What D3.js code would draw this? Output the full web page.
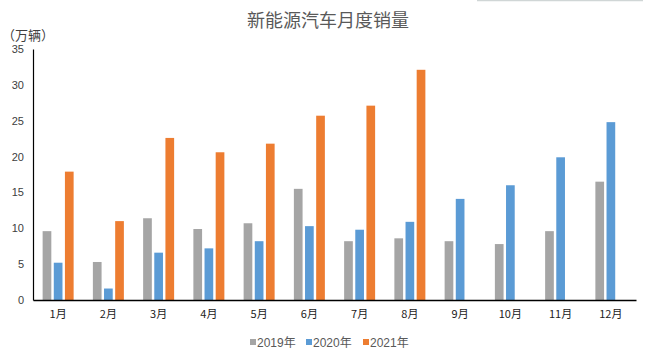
<!DOCTYPE html>
<html><head><meta charset="utf-8">
<script src="https://cdn.jsdelivr.net/npm/d3@7/dist/d3.min.js"></script>
<style>
body{margin:0;background:#fff;}
svg{display:block;font-family:"Liberation Sans","Noto Sans CJK SC",sans-serif;}
</style></head><body>
<svg id="c" width="660" height="357"></svg>
<script>
const months = ["1月","2月","3月","4月","5月","6月","7月","8月","9月","10月","11月","12月"];
const seriesNames = ["2019年","2020年","2021年"];
const v2019 = [9.6,5.3,11.4,9.9,10.7,15.5,8.2,8.6,8.2,7.8,9.6,16.5];
const v2020 = [5.2,1.6,6.6,7.2,8.2,10.3,9.8,10.9,14.1,16.0,19.9,24.8];
const v2021 = [17.9,11.0,22.6,20.6,21.8,25.7,27.1,32.1,null,null,null,null];
const yTicks = [0,5,10,15,20,25,30,35];
const colors = ["#A5A5A5","#5B9BD5","#ED7D31"];

const svg = d3.select("#c");
const series = [v2019, v2020, v2021];

const x = d3.scaleBand().domain(months).range([33, 636]).padding(0);
const y = d3.scaleLinear().domain([0, 35]).range([300, 49]);
const inner = d3.scaleBand().domain(seriesNames).range([0, 31]).paddingInner(0.22).paddingOuter(0);

// decorative top-right line
svg.append("line").attr("x1",477).attr("x2",643).attr("y1",0.5).attr("y2",0.5)
  .attr("stroke","#d0d6d6").attr("stroke-width",1.5);

// title
svg.append("text").attr("x",328).attr("y",27).attr("text-anchor","middle")
  .attr("font-size",18).attr("fill","#595959")
  .attr("font-family","'Noto Sans CJK SC',sans-serif").text("新能源汽车月度销量");

// unit
svg.append("text").attr("x",2).attr("y",40).attr("font-size",13).attr("fill","#404040")
  .attr("font-family","'Noto Sans CJK SC',sans-serif").text("（万辆）");

// bars
series.forEach((vals, si) => {
  svg.append("g").selectAll("rect")
    .data(months.map((m, i) => ({m, v: vals[i]})).filter(d => d.v != null))
    .join("rect")
    .attr("x", d => x(d.m) + x.bandwidth()/2 - 15.5 + inner(seriesNames[si]))
    .attr("y", d => y(d.v))
    .attr("width", inner.bandwidth())
    .attr("height", d => y(0) - y(d.v))
    .attr("fill", colors[si]);
});

// y axis
const ya = svg.append("g").attr("transform","translate(33,0)")
  .call(d3.axisLeft(y).tickValues(yTicks).tickSize(0).tickPadding(9));
ya.select(".domain").attr("stroke","#000").attr("stroke-width",1.2);
ya.selectAll("text").attr("font-size",11).attr("fill","#404040")
  .attr("font-family","'Liberation Sans',sans-serif");

// x axis
const xa = svg.append("g").attr("transform","translate(0,300)")
  .call(d3.axisBottom(x).tickSize(0).tickPadding(10));
xa.select(".domain").attr("stroke","#000").attr("stroke-width",1.5);
xa.selectAll("text").attr("font-size",11).attr("fill","#222")
  .attr("font-family","'Noto Sans CJK SC',sans-serif");

// legend
const legX = [250, 306, 363];
const lg = svg.append("g");
seriesNames.forEach((n, i) => {
  lg.append("rect").attr("x", legX[i]).attr("y", 339).attr("width", 6).attr("height", 6).attr("fill", colors[i]);
  lg.append("text").attr("x", legX[i] + 7).attr("y", 346.5).attr("font-size", 12).attr("fill", "#595959")
    .attr("font-family","'Liberation Sans','Noto Sans CJK SC',sans-serif").text(n);
});
</script>
</body></html>
